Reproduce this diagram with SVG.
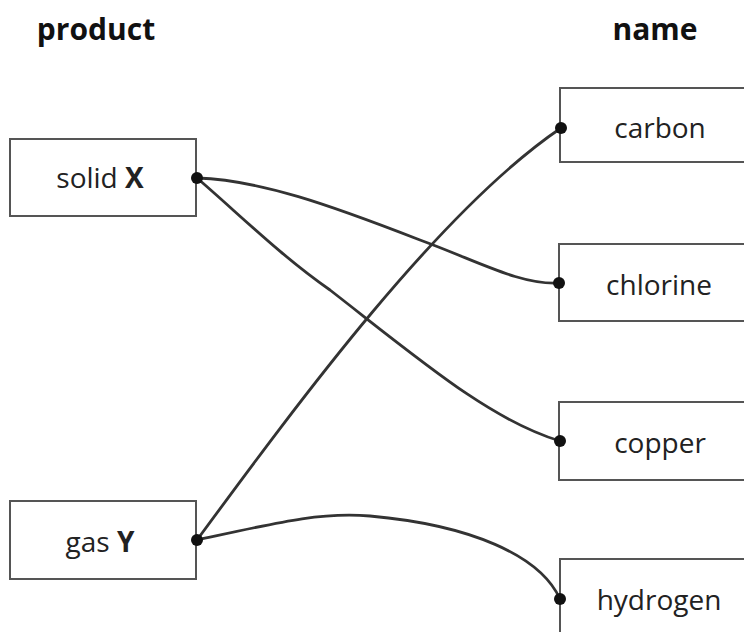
<svg xmlns="http://www.w3.org/2000/svg" width="744" height="632" viewBox="0 0 744 632">
<style>
.box{fill:#fff;stroke:#555;stroke-width:2}
.lbl{font-family:"Open Sans","Liberation Sans",sans-serif;font-size:28px;fill:#222;text-anchor:middle}
.hdr{font-family:"Open Sans","Liberation Sans",sans-serif;font-size:30px;font-weight:bold;fill:#111;text-anchor:middle}
.conn{fill:none;stroke:#333;stroke-width:2.8;stroke-linecap:round}
.dot{fill:#111}
</style>
<rect width="744" height="632" fill="#fff"/>
<text class="hdr" x="96" y="40">product</text>
<text class="hdr" x="655" y="40">name</text>
<g id="solidX"><rect class="box" x="10" y="139" width="186" height="77"/><text class="lbl" x="100" y="188">solid <tspan font-weight="bold">X</tspan></text></g>
<g id="gasY"><rect class="box" x="10" y="501" width="186" height="78"/><text class="lbl" x="100" y="552">gas <tspan font-weight="bold">Y</tspan></text></g>
<g id="carbon"><rect class="box" x="560" y="88" width="190" height="74"/><text class="lbl" x="660" y="138">carbon</text></g>
<g id="chlorine"><rect class="box" x="559" y="244" width="190" height="77"/><text class="lbl" x="659" y="295">chlorine</text></g>
<g id="copper"><rect class="box" x="559" y="402" width="190" height="78"/><text class="lbl" x="660" y="453">copper</text></g>
<g id="hydrogen"><rect class="box" x="560" y="559" width="190" height="80"/><text class="lbl" x="659" y="610">hydrogen</text></g>
<g id="connectors">
<path class="conn" d="M197,178 C260,180 330,205 420,240 C480,262 520,285 559,283"/>
<path class="conn" d="M197,178 C240,215 280,255 330,290 C420,360 490,420 560,441"/>
<path class="conn" d="M197,540 C300,400 440,210 561,128"/>
<path class="conn" d="M197,540 C280,522 320,512 370,516 C470,525 540,555 560,599"/>
<circle class="dot" cx="197" cy="178" r="6"/>
<circle class="dot" cx="197" cy="540" r="6"/>
<circle class="dot" cx="561" cy="128" r="6"/>
<circle class="dot" cx="559" cy="283" r="6"/>
<circle class="dot" cx="560" cy="441" r="6"/>
<circle class="dot" cx="560" cy="599" r="6"/>
</g>
</svg>
